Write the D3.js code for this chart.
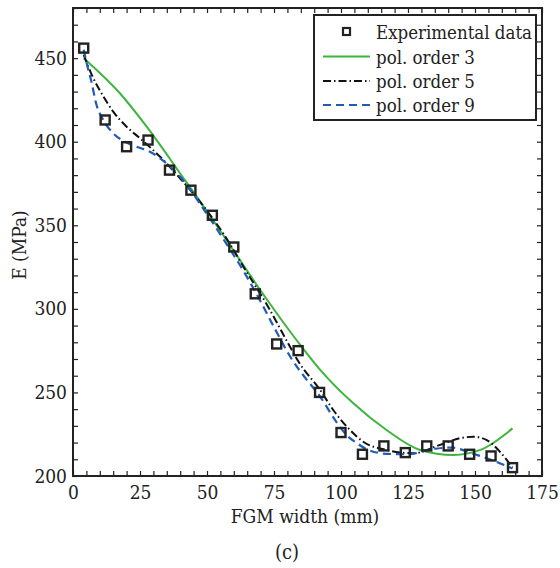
<!DOCTYPE html>
<html>
<head>
<meta charset="utf-8">
<script src="https://cdn.jsdelivr.net/npm/d3@7"></script>
<style>
  html, body { margin: 0; padding: 0; background: #fff; }
  svg { display: block; }
</style>
</head>
<body>
<div id="chart"></div>
<script>
// ---- data ----
const widthMM = [4, 12, 20, 28, 36, 44, 52, 60, 68, 76, 84, 92, 100, 108, 116, 124, 132, 140, 148, 156, 164];
const modulus = [456, 413, 397, 401, 383, 371, 356, 337, 309, 279, 275, 250, 226, 213, 218, 214, 218, 218, 213, 212, 205];

const order3X = [4, 17.5, 27.5, 40, 51, 59, 70, 85, 92, 104.6, 117, 129.5, 142, 152, 164];
const order3Y = [450, 429, 409, 381, 356, 337, 311, 278, 264, 243.5, 227.5, 215.6, 212.6, 215.6, 228.5];

const order5X = [4, 7, 11, 15, 20, 25, 32.5, 40, 47.4, 56.1, 64.8, 72.9, 79.7, 84.3, 92.2, 97.1, 103.4, 108.3, 117, 127, 136.9, 144.4, 149.4, 154.4, 159.3, 164];
const order5Y = [452, 440, 428, 418, 409, 402, 391, 378, 364, 345, 322, 301, 281, 268, 251.5, 239.5, 227.5, 220.5, 215.6, 213.6, 218.6, 222.6, 223.5, 221.5, 214.5, 205];

const order9X = [4, 5.1, 7, 8.6, 11.3, 15, 19.4, 23.8, 28.7, 32.5, 40, 48.6, 56, 63.5, 69.8, 74.7, 81.6, 87, 92, 98, 102.4, 106, 109.6, 117.7, 125.1, 133.8, 141.3, 148.8, 156.2, 164];
const order9Y = [455, 447, 435, 423, 413, 405, 400, 397, 394, 390, 379, 360, 342, 323, 305, 290, 270, 258, 248, 233, 224, 219.6, 216, 213.2, 213, 216, 217, 213.6, 209.6, 204.5];

const xTicks = [0, 25, 50, 75, 100, 125, 150, 175];
const yTicks = [200, 250, 300, 350, 400, 450];
const legendLabels = ["Experimental data", "pol. order 3", "pol. order 5", "pol. order 9"];

// ---- layout ----
const W = 560, H = 568;
const L = 73, R = 542, T = 8, B = 476;
const FONT = '"DejaVu Serif Condensed", "DejaVu Serif", serif';

const svg = d3.select("#chart").append("svg").attr("width", W).attr("height", H)
  .style("font-family", FONT);

const x = d3.scaleLinear().domain([0, 175]).range([L, R]);
const y = d3.scaleLinear().domain([200, 480]).range([B, T]);

const tickLen = 5;
const xMinor = d3.range(0, 176, 5);
const yMinor = d3.range(200, 481, 10);

const gx = svg.append("g").attr("transform", `translate(0,${B})`)
  .call(d3.axisBottom(x).tickValues(xMinor).tickSize(-tickLen).tickFormat(""));
const gxt = svg.append("g").attr("transform", `translate(0,${T})`)
  .call(d3.axisTop(x).tickValues(xMinor).tickSize(-tickLen).tickFormat(""));
const gy = svg.append("g").attr("transform", `translate(${L},0)`)
  .call(d3.axisLeft(y).tickValues(yMinor).tickSize(-tickLen).tickFormat(""));
const gyr = svg.append("g").attr("transform", `translate(${R},0)`)
  .call(d3.axisRight(y).tickValues(yMinor).tickSize(-tickLen).tickFormat(""));
[gx, gxt, gy, gyr].forEach(g => {
  g.select(".domain").remove();
  g.selectAll(".tick line").attr("stroke", "#222").attr("stroke-width", 1.2);
});

const gxl = svg.append("g").attr("transform", `translate(0,${B})`)
  .call(d3.axisBottom(x).tickValues(xTicks).tickSize(0).tickPadding(10).tickFormat(d3.format("d")));
gxl.select(".domain").remove();
gxl.attr("font-family", null).attr("font-size", null);
gxl.selectAll("text").style("font-family", FONT).style("font-size", "19px").attr("fill", "#222");

const gyl = svg.append("g").attr("transform", `translate(${L},0)`)
  .call(d3.axisLeft(y).tickValues(yTicks).tickSize(0).tickPadding(6).tickFormat(d3.format("d")));
gyl.select(".domain").remove();
gyl.attr("font-family", null).attr("font-size", null);
gyl.selectAll("text").style("font-family", FONT).style("font-size", "19px").attr("fill", "#222");

svg.append("rect").attr("x", L).attr("y", T).attr("width", R - L).attr("height", B - T)
  .attr("fill", "none").attr("stroke", "#222").attr("stroke-width", 2);

const line = d3.line().x(d => x(d[0])).y(d => y(d[1])).curve(d3.curveMonotoneX);
const zip = (a, b) => a.map((v, i) => [v, b[i]]);

const plot = svg.append("g");
plot.append("path").datum(zip(order3X, order3Y)).attr("d", line)
  .attr("fill", "none").attr("stroke", "#3db53d").attr("stroke-width", 2);
plot.append("path").datum(zip(order5X, order5Y)).attr("d", line)
  .attr("fill", "none").attr("stroke", "#111").attr("stroke-width", 2)
  .attr("stroke-dasharray", "8,3,1.5,3");
plot.append("path").datum(zip(order9X, order9Y)).attr("d", line)
  .attr("fill", "none").attr("stroke", "#1f5cb8").attr("stroke-width", 2.2)
  .attr("stroke-dasharray", "8,5");

const ms = 9;
plot.selectAll("rect.pt").data(zip(widthMM, modulus)).enter().append("rect")
  .attr("class", "pt")
  .attr("x", d => x(d[0]) - ms / 2).attr("y", d => y(d[1]) - ms / 2)
  .attr("width", ms).attr("height", ms)
  .attr("fill", "none").attr("stroke", "#222").attr("stroke-width", 2.4);

const lg = svg.append("g");
lg.append("rect").attr("x", 314).attr("y", 15).attr("width", 222).attr("height", 105)
  .attr("fill", "#fff").attr("stroke", "#222").attr("stroke-width", 2);
const rowY = [31.5, 56.5, 81, 105];
const styles = [
  null,
  { stroke: "#3db53d", dash: null, w: 2 },
  { stroke: "#111", dash: "8,3,1.5,3", w: 2 },
  { stroke: "#1f5cb8", dash: "8,5", w: 2.2 }
];
legendLabels.forEach((lab, i) => {
  const yy = rowY[i];
  if (i === 0) {
    lg.append("rect").attr("x", 346.5 - 3.5).attr("y", yy - 3.5).attr("width", 7).attr("height", 7)
      .attr("fill", "none").attr("stroke", "#222").attr("stroke-width", 2.2);
  } else {
    const s = styles[i];
    const p = lg.append("line").attr("x1", 323).attr("x2", 370).attr("y1", yy).attr("y2", yy)
      .attr("stroke", s.stroke).attr("stroke-width", s.w);
    if (s.dash) p.attr("stroke-dasharray", s.dash);
  }
  lg.append("text").attr("x", 376).attr("y", yy + 7).style("font-family", FONT)
    .style("font-size", "18.5px").attr("fill", "#222").text(lab);
});

svg.append("text").attr("x", 305).attr("y", 523).attr("text-anchor", "middle")
  .style("font-family", FONT).style("font-size", "19px").attr("fill", "#222").text("FGM width (mm)");
svg.append("text").attr("transform", "translate(26,245) rotate(-90)").attr("text-anchor", "middle")
  .style("font-family", FONT).style("font-size", "19px").attr("fill", "#222").text("E (MPa)");
svg.append("text").attr("x", 287).attr("y", 559).attr("text-anchor", "middle")
  .style("font-family", FONT).style("font-size", "20px").attr("fill", "#222").text("(c)");
</script>
</body>
</html>
